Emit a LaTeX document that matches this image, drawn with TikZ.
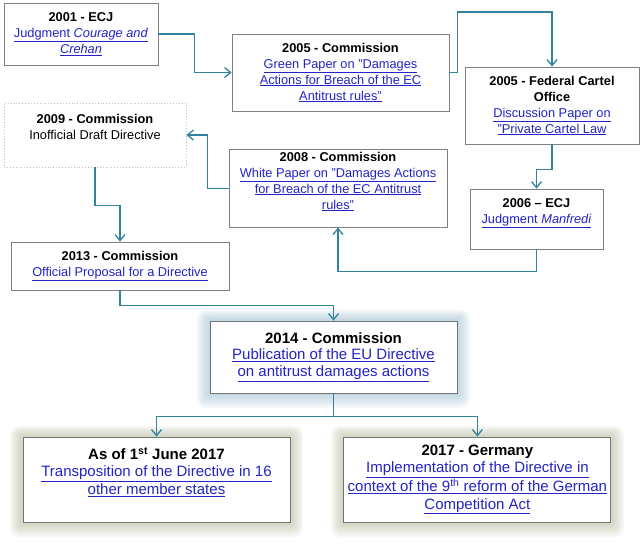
\documentclass[tikz,border=0pt]{standalone}
\usepackage{fontspec}
\setmainfont{Liberation Sans}
\usepackage{xcolor}
\usepackage{tikz}
\usetikzlibrary{arrows.meta, positioning, calc, backgrounds}
\definecolor{lineblue}{HTML}{31849B}
\definecolor{linkblue}{HTML}{2323C8}
\definecolor{boxgray}{HTML}{808080}
\definecolor{glowblue}{HTML}{8DB4C6}
\definecolor{glowolive}{HTML}{A9B08C}
\newcommand{\linktext}[1]{\textcolor{linkblue}{\underline{#1}}}
\tikzstyle{block} = [draw=boxgray, line width=0.9pt, rectangle, fill=white, align=center, inner sep=2pt, font=\fontsize{12.8}{16}\selectfont]
\tikzstyle{draft} = [block, draw=black!25, dotted]
\tikzstyle{big} = [block, draw=black!55, line width=0.9pt, font=\fontsize{15}{17.5}\selectfont]
\tikzstyle{arrow} = [draw=lineblue, line width=1.3pt, -{Straight Barb[length=6pt, width=10pt]}]
\tikzset{boxsize/.style 2 args={minimum width=#1pt, minimum height=#2pt}}

\begin{document}
\begin{tikzpicture}[x=1pt, y=-1pt]
    \useasboundingbox (0,0) rectangle (640,550);

    \node (ecj01) [block, boxsize={154}{62}] at (81,34) {\textbf{2001 - ECJ}\\\linktext{Judgment \textit{Courage and}}\\\linktext{\textit{Crehan}}};
    \node (green05) [block, boxsize={217}{77}] at (340.5,72.5) {\textbf{2005 - Commission}\\\linktext{Green Paper on "Damages}\\\linktext{Actions for Breach of the EC}\\\linktext{Antitrust rules"}};
    \node (fco05) [block, boxsize={174}{77}] at (552,105.5) {\textbf{2005 - Federal Cartel}\\\textbf{Office}\\\linktext{Discussion Paper on}\\\linktext{"Private Cartel Law}};
    \node (draft09) [draft, boxsize={182}{64}] at (95,135) {\textbf{2009 - Commission}\\Inofficial Draft Directive\\~};
    \node (white08) [block, boxsize={218}{77}] at (338,188.5) {\textbf{2008 - Commission}\\\linktext{White Paper on "Damages Actions}\\\linktext{for Breach of the EC Antitrust}\\\linktext{rules"}\\~};
    \node (ecj06) [block, boxsize={133}{60}] at (536.5,219) {\textbf{2006 – ECJ}\\\linktext{Judgment \textit{Manfredi}}\\~};
    \node (prop13) [block, boxsize={218}{48}] at (120,266) {\textbf{2013 - Commission}\\\linktext{Official Proposal for a Directive}};

    \node (dir14) [big, boxsize={247}{72}, font=\fontsize{15}{16.5}\selectfont] at (333.5,357) {\textbf{2014 - Commission}\\\linktext{Publication of the EU Directive}\\\linktext{on antitrust damages actions}};
    \node (june17) [big, boxsize={267}{85}] at (156.5,479.5) {\textbf{As of 1\textsuperscript{st} June 2017}\\\linktext{Transposition of the Directive in 16}\\\linktext{other member states}\\~};
    \node (de17) [big, boxsize={267}{85}, right=53pt of june17] {\textbf{2017 - Germany}\\\linktext{Implementation of the Directive in}\\\linktext{context of the 9\textsuperscript{th} reform of the German}\\\linktext{Competition Act}};

    % soft glow behind the last three boxes
    \begin{scope}[on background layer]
        \foreach \g in {1,...,10} {
            \fill [glowblue, opacity=0.065, rounded corners=\g pt] ([shift={(-1.3*\g pt,-1.5*\g pt)}]dir14.south west) rectangle ([shift={(1.3*\g pt,1.1*\g pt)}]dir14.north east);
            \fill [glowolive, opacity=0.065, rounded corners=\g pt] ([shift={(-1.3*\g pt,-1.5*\g pt)}]june17.south west) rectangle ([shift={(1.3*\g pt,1.1*\g pt)}]june17.north east);
            \fill [glowolive, opacity=0.065, rounded corners=\g pt] ([shift={(-1.3*\g pt,-1.5*\g pt)}]de17.south west) rectangle ([shift={(1.3*\g pt,1.1*\g pt)}]de17.north east);
        }
    \end{scope}

    \draw [arrow] (ecj01.east) -- ++(36,0) |- (green05.west);
    \draw [arrow] (green05.east) -- ++(8,0) -- ++(0,-60.5) -| (fco05.north);
    \draw [arrow] (fco05.south) -- ++(0,25) -| (ecj06.north);
    \draw [arrow] (ecj06.south) -- ++(0,22) -| (white08.south);
    \draw [arrow] (white08.west) -- ++(-21,0) |- (draft09.east);
    \draw [arrow] (draft09.south) -- ++(0,38) -| (prop13.north);
    \draw [arrow] (prop13.south) -- ++(0,15) -| (dir14.north);

    \draw [lineblue, line width=1.3pt] (dir14.south) -- ++(0,23) coordinate (split);
    \draw [arrow] (split) -| (june17.north);
    \draw [arrow] (split) -| (de17.north);
\end{tikzpicture}
\end{document}
